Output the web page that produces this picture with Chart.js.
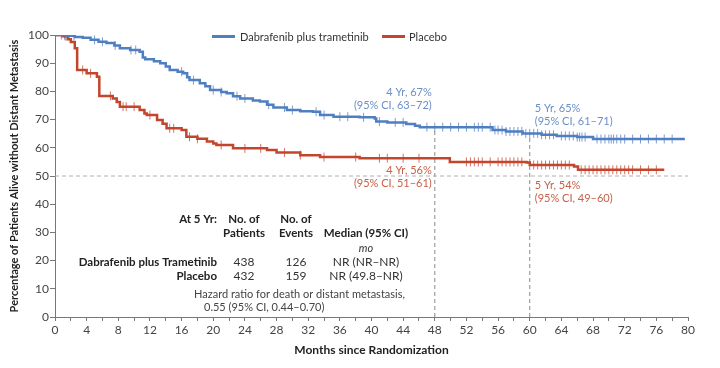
<!DOCTYPE html>
<html>
<head>
<meta charset="utf-8">
<script src="https://cdn.jsdelivr.net/npm/chart.js@4/dist/chart.umd.min.js"></script>
<style>
  body { margin: 0; background: #fff; }
  #wrap { width: 720px; height: 368px; position: relative; }
</style>
</head>
<body>
<div id="wrap"><canvas id="kmChart"></canvas></div>
<script>
// Kaplan-Meier steps (months, percent)
const blueMonths = [0, 1.5, 2.5, 3.5, 4.5, 5.5, 6.5, 7.5, 8.2, 9.5, 10.7, 11.1, 11.4, 12.5, 13.3, 14, 14.5, 15.5, 16.2, 16.7, 17, 18.3, 19, 19.6, 21, 21.7, 22.5, 23.4, 25, 25.9, 26.8, 27.6, 29.3, 31, 32.6, 33.5, 35.2, 38.5, 40.4, 40.6, 42, 44.4, 45.5, 46.1, 55.3, 57, 59.1, 61.5, 63.4, 66, 68, 79.6];
const blueSurv   = [100, 99.7, 99.3, 99, 98.3, 97.6, 97.2, 96.3, 95.3, 94.7, 94.1, 92, 91.4, 90.7, 90, 88.8, 87.6, 87, 86.4, 85, 84, 82.9, 81.8, 80.5, 79.8, 79.3, 78.3, 77.5, 76.8, 76.4, 75.3, 74.3, 73.4, 73, 72.8, 71.6, 71, 70.8, 70.4, 69.3, 69, 68.4, 67.8, 67.3, 66.3, 65.8, 65.1, 64.6, 64.2, 63.8, 63.1, 63.1];
const redMonths = [0, 1, 1.6, 2, 2.5, 2.8, 4, 5.3, 5.6, 7.3, 7.8, 8.2, 10.7, 11.3, 11.6, 12.9, 13.6, 14.1, 16, 16.6, 18, 19.2, 20, 20.4, 22.5, 26.8, 28, 31, 33.5, 38.5, 49.9, 59.6, 60, 65.6, 66.1, 77];
const redSurv   = [100, 99.6, 98.5, 97.5, 95.3, 87.6, 86.4, 85.2, 78.4, 77.5, 76.2, 74.6, 73.4, 72.2, 71.6, 69.9, 68.5, 66.9, 66.3, 63.9, 63.2, 62.2, 61.5, 61, 59.8, 59.2, 58.3, 57.4, 56.7, 56.3, 55, 54.8, 53.9, 53.4, 52.2, 52.2];

// censored patients (months)
const blueCensor = [1.2, 1.8, 2.4, 5, 6, 7.6, 9.6, 10.2, 16, 17.5, 20, 21, 23, 24, 27, 29, 30, 33, 34, 36, 37, 39, 41, 43, 44, 47, 48, 49, 50, 51, 52, 53, 53.5, 54, 55, 55.6, 56, 56.5, 57, 57.5, 58, 58.5, 59, 59.5, 60, 60.5, 61, 61.5, 62, 62.5, 63, 64, 64.5, 65, 65.5, 66, 66.3, 66.6, 67, 68.5, 69, 69.5, 70, 70.3, 70.6, 71, 71.5, 72, 73, 74, 75, 76, 77, 78];
const redCensor = [0.8, 1.3, 3.5, 4.5, 7, 8.6, 9, 10, 12, 14.5, 15, 17, 18, 21, 24, 26, 29, 31, 34, 38, 41, 42, 44, 46, 52, 52.5, 53, 53.5, 54, 55, 56, 56.5, 57, 57.5, 58, 58.5, 59, 60.5, 61, 61.5, 62, 62.5, 63, 63.5, 64, 64.5, 65, 66.5, 67, 67.5, 68, 68.5, 69, 69.5, 70, 70.5, 71, 71.5, 72, 72.5, 73, 74, 75, 76];

// landmarks
const landmarkMonths = [48, 60];
const landmarkBlue = [67, 65];
const medianLine = 50;

const BLUE = '#4f7fc1';
const RED = '#c4452d';
const FONT = 'Lato';

function survAt(months, surv, t) {
  let v = surv[0];
  for (let i = 0; i < months.length; i++) {
    if (months[i] <= t) v = surv[i];
  }
  return v;
}

function pts(xs, ys) {
  return xs.map((x, i) => ({x: x, y: ys[i]}));
}

const datasets = [
  {data: pts(blueMonths, blueSurv), borderColor: BLUE, borderWidth: 2.5, stepped: true, pointRadius: 0, showLine: true},
  {data: pts(redMonths, redSurv), borderColor: RED, borderWidth: 2.5, stepped: true, pointRadius: 0, showLine: true},
  {data: blueCensor.map(t => ({x: t, y: survAt(blueMonths, blueSurv, t)})), borderColor: 'rgba(79,127,193,0.75)', pointStyle: 'line', rotation: 90, pointRadius: 4.5, pointBorderWidth: 1, showLine: false},
  {data: redCensor.map(t => ({x: t, y: survAt(redMonths, redSurv, t)})), borderColor: 'rgba(196,69,45,0.75)', pointStyle: 'line', rotation: 90, pointRadius: 4.5, pointBorderWidth: 1, showLine: false},
  {data: [{x: 0, y: medianLine}, {x: 80, y: medianLine}], borderColor: '#b0b0b0', borderWidth: 1, borderDash: [4, 3], pointRadius: 0, showLine: true}
];
for (let i = 0; i < landmarkMonths.length; i++) {
  datasets.push({data: [{x: landmarkMonths[i], y: 0}, {x: landmarkMonths[i], y: landmarkBlue[i]}], borderColor: '#8a8a8a', borderWidth: 1, borderDash: [4, 3], pointRadius: 0, showLine: true});
}

function txt(ctx, s, x, y, align, font, color) {
  ctx.font = font;
  ctx.fillStyle = color;
  ctx.textAlign = align;
  ctx.textBaseline = 'middle';
  ctx.fillText(s, x, y);
}

const textPlugin = {
  id: 'texts',
  afterDraw(chart) {
    const ctx = chart.ctx;
    const xs = chart.scales.x;
    ctx.save();
    // legend
    ctx.lineWidth = 3;
    ctx.strokeStyle = BLUE;
    ctx.beginPath(); ctx.moveTo(212, 36.5); ctx.lineTo(235, 36.5); ctx.stroke();
    ctx.strokeStyle = RED;
    ctx.beginPath(); ctx.moveTo(382, 36.5); ctx.lineTo(405, 36.5); ctx.stroke();
    const leg = `11px ${FONT}`;
    txt(ctx, 'Dabrafenib plus trametinib', 240, 37, 'left', leg, '#333');
    txt(ctx, 'Placebo', 409, 37, 'left', leg, '#333');

    // landmark annotations
    const x4 = xs.getPixelForValue(landmarkMonths[0]);
    const x5 = xs.getPixelForValue(landmarkMonths[1]);
    const lb = '#6a8fca', lr = '#c8604a';
    const ann = `11px ${FONT}`;
    txt(ctx, '4 Yr, 67%', x4 - 3, 92, 'right', ann, lb);
    txt(ctx, '(95% CI, 63\u201372)', x4 - 3, 105, 'right', ann, lb);
    txt(ctx, '5 Yr, 65%', x5 + 5, 108, 'left', ann, lb);
    txt(ctx, '(95% CI, 61\u201371)', x5 + 5, 121, 'left', ann, lb);
    txt(ctx, '4 Yr, 56%', x4 - 3, 170, 'right', ann, lr);
    txt(ctx, '(95% CI, 51\u201361)', x4 - 3, 183.5, 'right', ann, lr);
    txt(ctx, '5 Yr, 54%', x5 + 5, 185, 'left', ann, lr);
    txt(ctx, '(95% CI, 49\u201360)', x5 + 5, 198, 'left', ann, lr);

    // summary table
    const reg = `12px ${FONT}`;
    const bold = `bold 11.5px ${FONT}`;
    const k = '#222';
    txt(ctx, 'At 5 Yr:', 217, 219.5, 'right', bold, k);
    txt(ctx, 'No. of', 244, 219.5, 'center', bold, k);
    txt(ctx, 'Patients', 244, 233, 'center', bold, k);
    txt(ctx, 'No. of', 296, 219.5, 'center', bold, k);
    txt(ctx, 'Events', 296, 233, 'center', bold, k);
    txt(ctx, 'Median (95% CI)', 366, 233, 'center', bold, k);
    txt(ctx, 'mo', 366, 248, 'center', `italic 11px ${FONT}`, '#333');
    txt(ctx, 'Dabrafenib plus Trametinib', 217, 262, 'right', bold, k);
    txt(ctx, 'Placebo', 217, 276, 'right', bold, k);
    txt(ctx, '438', 244, 262, 'center', reg, '#333');
    txt(ctx, '126', 296, 262, 'center', reg, '#333');
    txt(ctx, 'NR (NR\u2013NR)', 366, 262, 'center', reg, '#333');
    txt(ctx, '432', 244, 276, 'center', reg, '#333');
    txt(ctx, '159', 296, 276, 'center', reg, '#333');
    txt(ctx, 'NR (49.8\u2013NR)', 366, 276, 'center', reg, '#333');
    txt(ctx, 'Hazard ratio for death or distant metastasis,', 194, 294, 'left', `11px ${FONT}`, '#444');
    txt(ctx, '0.55 (95% CI, 0.44\u20130.70)', 204, 307, 'left', `11px ${FONT}`, '#444');
    ctx.restore();
  }
};

new Chart(document.getElementById('kmChart'), {
  type: 'scatter',
  data: {datasets: datasets},
  plugins: [textPlugin],
  options: {
    responsive: true,
    maintainAspectRatio: false,
    animation: false,
    layout: {padding: {top: 35, right: 32, left: 0, bottom: 0}},
    plugins: {legend: {display: false}, tooltip: {enabled: false}},
    elements: {line: {tension: 0}},
    scales: {
      x: {
        type: 'linear', min: 0, max: 80,
        afterFit(scale) { scale.height = 51; },
        border: {color: '#777', width: 1},
        grid: {drawOnChartArea: false, tickLength: 4, color: '#777'},
        ticks: {stepSize: 2, autoSkip: false, maxRotation: 0, padding: 2, color: '#444',
          font: {family: FONT, size: 12},
          callback: v => (v % 4 === 0 ? v : '')},
        title: {display: true, text: 'Months since Randomization', color: '#222',
          font: {family: FONT, size: 12, weight: 'bold'}, padding: {top: 0, bottom: 11}}
      },
      y: {
        min: 0, max: 100,
        afterFit(scale) { scale.width = 55; },
        border: {color: '#777', width: 1},
        grid: {drawOnChartArea: false, tickLength: 5, color: '#777'},
        ticks: {stepSize: 10, padding: 1, color: '#444', font: {family: FONT, size: 12}},
        title: {display: true, text: 'Percentage of Patients Alive without Distant Metastasis', color: '#222',
          font: {family: FONT, size: 11, weight: 'bold'}, padding: {top: 8, bottom: 0}}
      }
    }
  }
});
</script>
</body>
</html>
